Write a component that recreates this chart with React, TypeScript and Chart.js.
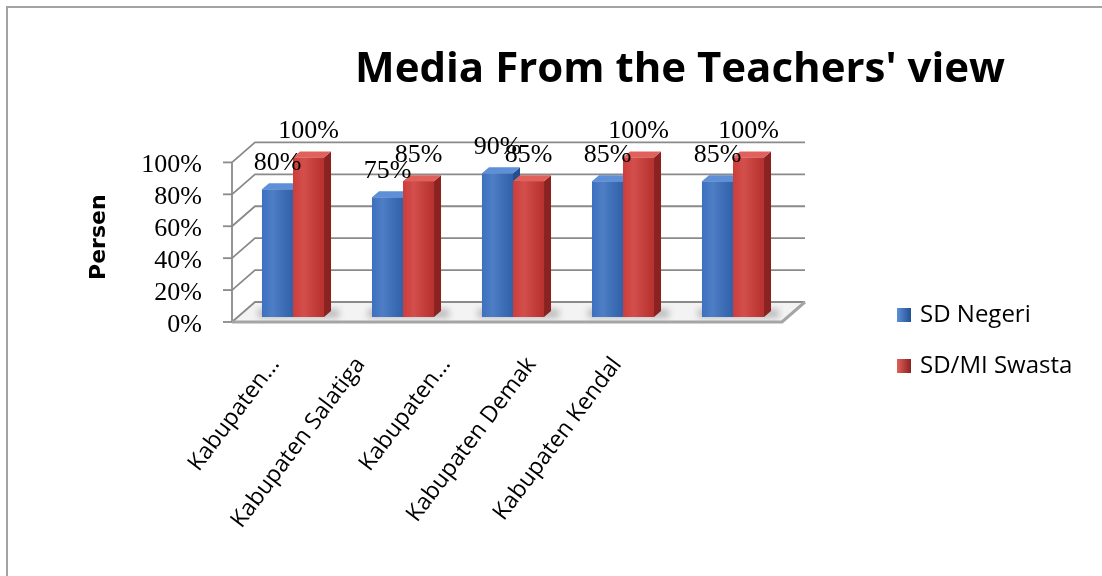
import React, { useEffect, useRef } from 'react';
import { Chart, registerables } from 'chart.js';

Chart.register(...registerables);

const chartTitle = "Media From the Teachers' view";
const yAxisTitle = 'Persen';
const categories = ['Kabupaten...', 'Kabupaten Salatiga', 'Kabupaten...', 'Kabupaten Demak', 'Kabupaten Kendal'];
const seriesNames = ['SD Negeri', 'SD/MI Swasta'];
const sdNegeri = [0.8, 0.75, 0.9, 0.85, 0.85];
const sdMiSwasta = [1.0, 0.85, 0.85, 1.0, 1.0];
const yTickValues = [0, 0.2, 0.4, 0.6, 0.8, 1.0];
const yTickLabels = ['0%', '20%', '40%', '60%', '80%', '100%'];

const frontColors = ['#366cbd', '#cc3734'];
const sideColors = ['#22508f', '#8a2222'];
const topColors = ['#5d90d8', '#e0605b'];

const FRONT = { dx: -6, dy: 5 };
const BACK = { dx: 17, dy: -15 };
const BAR = { dx: 7, dy: -6 };

const pct = (v: number) => `${Math.round(v * 100)}%`;

function barBox(el: any) {
  const p = el.getProps(['x', 'y', 'base', 'width'], true);
  return { left: p.x - p.width / 2, right: p.x + p.width / 2, top: p.y, base: p.base, x: p.x };
}

const walls3d = {
  id: 'walls3d',
  beforeDatasetsDraw(chart: any) {
    const { ctx, chartArea: a } = chart;
    const y = chart.scales.y;
    const y0 = y.getPixelForValue(0);
    ctx.save();
    ctx.beginPath();
    ctx.moveTo(a.left + FRONT.dx, y0 + FRONT.dy);
    ctx.lineTo(a.right + FRONT.dx, y0 + FRONT.dy);
    ctx.lineTo(a.right + BACK.dx, y0 + BACK.dy);
    ctx.lineTo(a.left + BACK.dx, y0 + BACK.dy);
    ctx.closePath();
    ctx.fillStyle = '#f3f3f3';
    ctx.fill();
    ctx.save();
    ctx.filter = 'blur(3px)';
    ctx.fillStyle = 'rgba(0,0,0,0.22)';
    chart.data.labels.forEach((_: any, i: number) => {
      const b0 = barBox(chart.getDatasetMeta(0).data[i]);
      const b1 = barBox(chart.getDatasetMeta(1).data[i]);
      ctx.fillRect(b0.left - 4, b0.base + BAR.dy - 2, b1.right + BAR.dx + 8 - (b0.left - 4), 9);
    });
    ctx.restore();
    ctx.strokeStyle = '#8a8a8a';
    ctx.lineWidth = 1.8;
    yTickValues.forEach((v) => {
      const py = y.getPixelForValue(v);
      ctx.beginPath();
      ctx.moveTo(a.left + FRONT.dx, py + FRONT.dy);
      ctx.lineTo(a.left + BACK.dx, py + BACK.dy);
      ctx.lineTo(a.right + BACK.dx, py + BACK.dy);
      ctx.stroke();
      ctx.beginPath();
      ctx.moveTo(a.left + FRONT.dx - 9, py + FRONT.dy);
      ctx.lineTo(a.left + FRONT.dx, py + FRONT.dy);
      ctx.stroke();
    });
    ctx.beginPath();
    ctx.moveTo(a.left + FRONT.dx, y.getPixelForValue(1) + FRONT.dy);
    ctx.lineTo(a.left + FRONT.dx, y0 + FRONT.dy);
    ctx.stroke();
    ctx.strokeStyle = '#a5a5a5';
    ctx.lineWidth = 3;
    ctx.beginPath();
    ctx.moveTo(a.left + FRONT.dx, y0 + FRONT.dy);
    ctx.lineTo(a.right + FRONT.dx, y0 + FRONT.dy);
    ctx.lineTo(a.right + BACK.dx, y0 + BACK.dy);
    ctx.stroke();
    ctx.restore();
  },
  afterDatasetsDraw(chart: any) {
    const { ctx } = chart;
    ctx.save();
    const n = chart.data.labels.length;
    for (let i = 0; i < n; i++) {
      for (let d = 0; d < chart.data.datasets.length; d++) {
        const el = chart.getDatasetMeta(d).data[i];
        if (d > 0) el.draw(ctx);
        const b = barBox(el);
        const g = ctx.createLinearGradient(b.left, 0, b.right, 0);
        g.addColorStop(0, 'rgba(255,255,255,0.03)');
        g.addColorStop(0.35, 'rgba(255,255,255,0.12)');
        g.addColorStop(1, 'rgba(0,0,0,0.10)');
        ctx.fillStyle = g;
        ctx.fillRect(b.left, b.top, b.right - b.left, b.base - b.top);
        ctx.beginPath();
        ctx.moveTo(b.right, b.top);
        ctx.lineTo(b.right + BAR.dx, b.top + BAR.dy);
        ctx.lineTo(b.right + BAR.dx, b.base + BAR.dy);
        ctx.lineTo(b.right, b.base);
        ctx.closePath();
        ctx.fillStyle = sideColors[d];
        ctx.fill();
        ctx.beginPath();
        ctx.moveTo(b.left, b.top);
        ctx.lineTo(b.left + BAR.dx, b.top + BAR.dy);
        ctx.lineTo(b.right + BAR.dx, b.top + BAR.dy);
        ctx.lineTo(b.right, b.top);
        ctx.closePath();
        ctx.fillStyle = topColors[d];
        ctx.fill();
      }
    }
    ctx.font = '26px "Liberation Serif", serif';
    ctx.fillStyle = '#000';
    ctx.textAlign = 'center';
    ctx.textBaseline = 'alphabetic';
    for (let d = 0; d < chart.data.datasets.length; d++) {
      const meta = chart.getDatasetMeta(d);
      chart.data.datasets[d].data.forEach((v: number, i: number) => {
        const b = barBox(meta.data[i]);
        ctx.fillText(pct(v), b.x, b.top - 19);
      });
    }
    ctx.restore();
  },
  afterDraw(chart: any) {
    const { ctx } = chart;
    ctx.save();
    ctx.font = '24px "Open Sans", sans-serif';
    ctx.textAlign = 'left';
    ctx.textBaseline = 'alphabetic';
    chart.data.datasets.forEach((ds: any, d: number) => {
      const top = 308 + d * 51;
      const g = ctx.createLinearGradient(897, 0, 911, 0);
      g.addColorStop(0, topColors[d]);
      g.addColorStop(1, sideColors[d]);
      ctx.fillStyle = g;
      ctx.fillRect(897, top, 14, 14);
      ctx.fillStyle = '#000';
      ctx.fillText(ds.label, 920, top + 14);
    });
    ctx.restore();
  },
};

export default function App() {
  const ref = useRef<HTMLCanvasElement | null>(null);
  useEffect(() => {
    if (!ref.current) return;
    const chart = new Chart(ref.current, {
      type: 'bar',
      data: {
        labels: categories,
        datasets: [
          { label: seriesNames[0], data: sdNegeri, backgroundColor: frontColors[0], xAxisID: 'x', yAxisID: 'y' },
          { label: seriesNames[1], data: sdMiSwasta, backgroundColor: frontColors[1], xAxisID: 'x', yAxisID: 'y' },
        ],
      },
      options: {
        responsive: false,
        animation: false,
        devicePixelRatio: 1,
        datasets: { bar: { categoryPercentage: 0.564, barPercentage: 1, borderWidth: 0 } },
        layout: { padding: { left: 86, right: 97, top: 0, bottom: 0 } },
        plugins: {
          legend: { display: false },
          tooltip: { enabled: false },
          title: {
            display: true,
            text: chartTitle,
            align: 'end',
            color: '#000',
            font: { family: "'Open Sans', sans-serif", weight: 'bold', size: 42 },
            padding: { top: 45, bottom: 62 },
          },
        },
        scales: {
          x: { type: 'category', display: false },
          xl: {
            type: 'linear',
            position: 'bottom',
            offset: false,
            min: -0.433,
            max: 6.0,
            afterBuildTicks: (s: any) => {
              s.ticks = categories.map((_, i) => ({ value: i }));
            },
            afterFit: (s: any) => {
              s.height = 259;
            },
            grid: { display: false, drawTicks: false, offset: false },
            border: { display: false },
            ticks: {
              autoSkip: false,
              minRotation: 53,
              maxRotation: 53,
              padding: 35,
              color: '#000',
              font: { family: "'Open Sans', sans-serif", size: 23 },
              callback: (v: any) => categories[v] ?? '',
            },
          },
          y: {
            min: 0,
            max: 1,
            afterBuildTicks: (s: any) => {
              s.ticks = yTickValues.map((v) => ({ value: v }));
            },
            afterFit: (s: any) => {
              s.width = 152;
            },
            grid: { display: false, drawTicks: false },
            border: { display: false },
            ticks: {
              autoSkip: false,
              padding: 36,
              labelOffset: 8,
              color: '#000',
              font: { family: "'Liberation Serif', serif", size: 26 },
              callback: (_v: any, i: number) => yTickLabels[i],
            },
            title: {
              display: true,
              text: yAxisTitle,
              color: '#000',
              font: { family: "'DejaVu Sans', sans-serif", weight: 'bold', size: 22 },
              padding: { top: 0, bottom: 0 },
            },
          },
          y2: {
            type: 'linear',
            position: 'right',
            afterFit: (s: any) => {
              s.width = 217;
            },
            grid: { display: false, drawTicks: false },
            border: { display: false },
            ticks: { display: false },
          },
        },
      },
      plugins: [walls3d],
    } as any);
    return () => chart.destroy();
  }, []);
  return (
    <div style={{ position: 'fixed', left: 0, top: 0, width: 1102, height: 576, background: '#fff', overflow: 'hidden' }}>
      <div
        style={{
          position: 'absolute',
          left: 6,
          top: 6,
          width: 1200,
          height: 700,
          borderTop: '2px solid #a3a3a3',
          borderLeft: '2px solid #a3a3a3',
        }}
      />
      <canvas ref={ref} width={1102} height={576} style={{ position: 'absolute', left: 0, top: 0 }} />
    </div>
  );
}
